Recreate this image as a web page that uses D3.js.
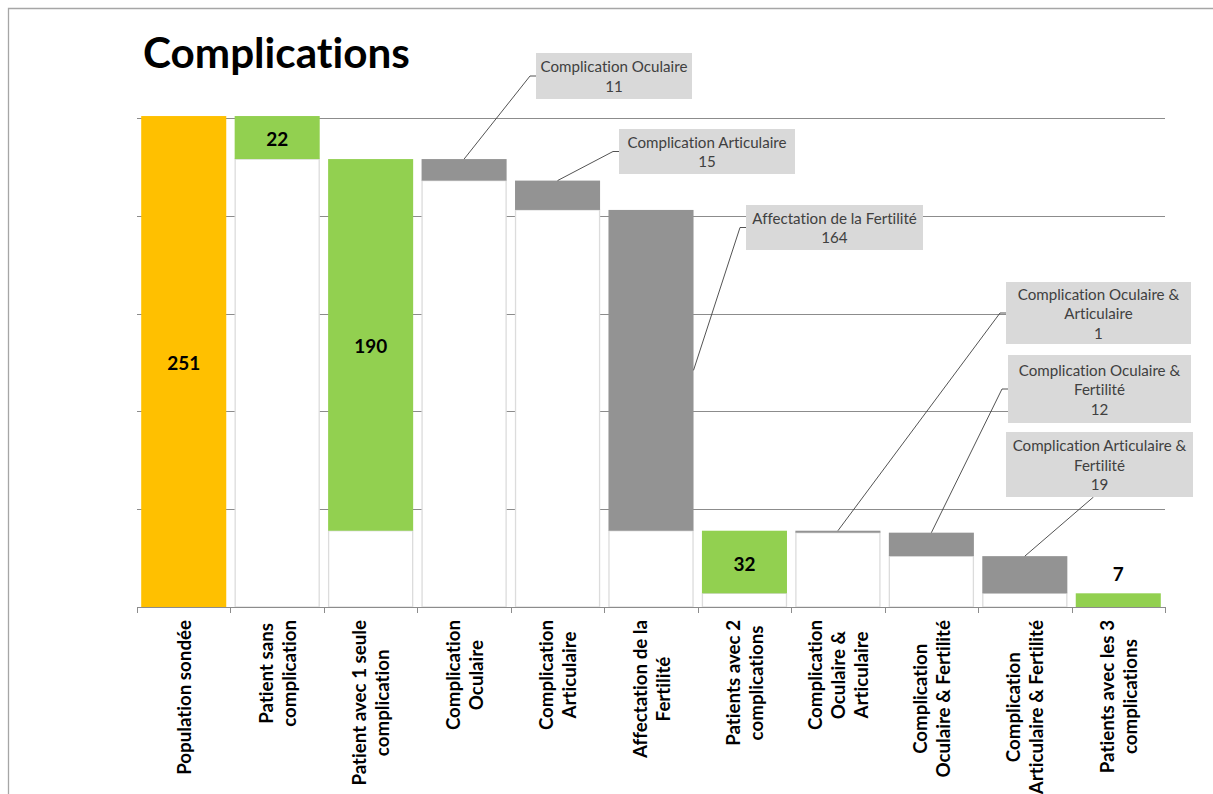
<!DOCTYPE html>
<html>
<head>
<meta charset="utf-8">
<script src="https://cdn.jsdelivr.net/npm/d3@7"></script>
<style>
	body { margin: 0; background: #fff; overflow: hidden; }
	svg { display: block; }
	text { font-family: Lato, "Noto Sans", sans-serif; font-variant-ligatures: none; font-feature-settings: "liga" 0; }
</style>
</head>
<body>
<svg id="chart" width="1213" height="794"></svg>
<script>
// chart values
var categories = [
	"Population sondée",
	"Patient sans\ncomplication",
	"Patient avec 1 seule\ncomplication",
	"Complication\nOculaire",
	"Complication\nArticulaire",
	"Affectation de la\nFertilité",
	"Patients avec 2\ncomplications",
	"Complication\nOculaire &\nArticulaire",
	"Complication\nOculaire & Fertilité",
	"Complication\nArticulaire & Fertilité",
	"Patients avec les 3\ncomplications"
];
var values = [251, 22, 190, 11, 15, 164, 32, 1, 12, 19, 7];
// invisible part under each floating bar
var bases = [0, 229, 39, 218, 203, 39, 7, 38, 26, 7, 0];
// "total" = orange, "group" = green, "detail" = grey with callout
var kinds = ["total", "group", "group", "detail", "detail", "detail", "group", "detail", "detail", "detail", "group"];
var calloutTexts = [
	null, null, null,
	"Complication Oculaire",
	"Complication Articulaire",
	"Affectation de la Fertilité",
	null,
	"Complication Oculaire &\nArticulaire",
	"Complication Oculaire &\nFertilité",
	"Complication Articulaire &\nFertilité",
	null
];
var yTicks = [0, 50, 100, 150, 200, 250];

// layout of the callout boxes (not data)
var calloutBoxes = {
	3: {x: 536, y: 53, w: 156, h: 46, anchor: "top"},
	4: {x: 619, y: 129, w: 176, h: 45, anchor: "top"},
	5: {x: 746, y: 205, w: 177, h: 45, anchor: "side"},
	7: {x: 1006, y: 282, w: 185, h: 62, anchor: "top"},
	8: {x: 1008, y: 355, w: 183, h: 68, anchor: "top"},
	9: {x: 1006, y: 432, w: 187, h: 65, anchor: "top", elbow: "bottom"}
};

var colors = { total: "#ffc000", group: "#92d050", detail: "#939393" };

(function() {
	var svg = d3.select("#chart");

	// measure helper to size fonts like the reference
	function fitSize(text, weight, target) {
		var t = svg.append("text").attr("font-size", 100).attr("font-weight", weight).text(text);
		var w = t.node().getComputedTextLength();
		t.remove();
		return 100 * target / w;
	}

	// outer frame
	svg.append("path")
		.attr("d", "M8.5,800V8.5H1220")
		.attr("fill", "none")
		.attr("stroke", "#a6a6a6")
		.attr("stroke-width", 1.3);

	var plotLeft = 137, plotRight = 1165, plotTop = 118, plotBottom = 607;

	var x = d3.scaleBand()
		.domain(d3.range(categories.length))
		.range([plotLeft, plotRight])
		.paddingInner(0.09)
		.paddingOuter(0.045);
	var y = d3.scaleLinear().domain([0, 250]).range([plotBottom, plotTop]);

	// gridlines
	svg.append("g").selectAll("line")
		.data(yTicks.slice(1))
		.enter().append("line")
		.attr("x1", plotLeft).attr("x2", plotRight)
		.attr("y1", function(d) { return Math.round(y(d)) + 0.5; })
		.attr("y2", function(d) { return Math.round(y(d)) + 0.5; })
		.attr("stroke", "#8c8c8c")
		.attr("stroke-width", 1);

	// invisible base bars (white with light border)
	svg.append("g").selectAll("rect")
		.data(bases.map(function(b, i) { return {i: i, b: b}; }).filter(function(d) { return d.b > 0; }))
		.enter().append("rect")
		.attr("x", function(d) { return x(d.i) + 0.5; })
		.attr("width", x.bandwidth() - 1)
		.attr("y", function(d) { return y(d.b); })
		.attr("height", function(d) { return y(0) - y(d.b); })
		.attr("fill", "#fff")
		.attr("stroke", "#dcdcdc")
		.attr("stroke-width", 1.3);

	// visible bars
	svg.append("g").selectAll("rect")
		.data(values.map(function(v, i) { return {i: i, v: v, b: bases[i], k: kinds[i]}; }))
		.enter().append("rect")
		.attr("x", function(d) { return x(d.i); })
		.attr("width", x.bandwidth())
		.attr("y", function(d) { return y(d.b + d.v); })
		.attr("height", function(d) { return Math.max(1.5, y(d.b) - y(d.b + d.v)); })
		.attr("fill", function(d) { return colors[d.k]; });

	// x axis line and ticks at category boundaries
	svg.append("line")
		.attr("x1", plotLeft).attr("x2", plotRight)
		.attr("y1", plotBottom + 0.5).attr("y2", plotBottom + 0.5)
		.attr("stroke", "#8c8c8c");
	var step = x.step();
	svg.append("g").selectAll("line")
		.data(d3.range(categories.length + 1))
		.enter().append("line")
		.attr("x1", function(i) { return Math.round(plotLeft + i * step) + 0.5; })
		.attr("x2", function(i) { return Math.round(plotLeft + i * step) + 0.5; })
		.attr("y1", plotBottom).attr("y2", plotBottom + 6)
		.attr("stroke", "#8c8c8c");

	// data labels on the orange / green bars
	var labelSize = fitSize("251", "bold", 33);
	values.forEach(function(v, i) {
		if (kinds[i] == "detail") return;
		var h = y(bases[i]) - y(bases[i] + v);
		var cy = h > 30 ? (y(bases[i]) + y(bases[i] + v)) / 2 + 1 : y(bases[i] + v) - 20;
		svg.append("text")
			.attr("x", x(i) + x.bandwidth() / 2)
			.attr("y", cy)
			.attr("text-anchor", "middle")
			.attr("dominant-baseline", "central")
			.attr("font-weight", "bold")
			.attr("font-size", labelSize)
			.attr("fill", "#000")
			.text(v);
	});

	// callouts for the grey bars
	var calloutSize = fitSize("Complication Oculaire", "normal", 147);
	Object.keys(calloutBoxes).forEach(function(key) {
		var i = +key;
		var box = calloutBoxes[key];
		var start;
		if (box.anchor == "side") {
			start = [x(i) + x.bandwidth(), (y(bases[i]) + y(bases[i] + values[i])) / 2];
		}
		else {
			start = [x(i) + x.bandwidth() / 2, y(bases[i] + values[i])];
		}
		var pts;
		if (box.elbow == "bottom") {
			pts = [start, [box.x + box.w / 2 - 6, box.y + box.h]];
		}
		else {
			var my = box.y + box.h / 2;
			pts = [start, [box.x - 6, my], [box.x, my]];
		}
		svg.append("path")
			.attr("d", d3.line()(pts))
			.attr("fill", "none")
			.attr("stroke", "#404040")
			.attr("stroke-width", 0.9);

		svg.append("rect")
			.attr("x", box.x).attr("y", box.y)
			.attr("width", box.w).attr("height", box.h)
			.attr("fill", "#d9d9d9");

		var lines = calloutTexts[i].split("\n").concat([String(values[i])]);
		var lineH = 19.5;
		var y0 = box.y + box.h / 2 - (lines.length - 1) * lineH / 2;
		lines.forEach(function(line, j) {
			svg.append("text")
				.attr("x", box.x + box.w / 2)
				.attr("y", y0 + j * lineH)
				.attr("text-anchor", "middle")
				.attr("dominant-baseline", "central")
				.attr("font-size", calloutSize)
				.attr("fill", "#404040")
				.text(line);
		});
	});

	// rotated category labels
	var catSize = fitSize("Population sondée", "bold", 155);
	categories.forEach(function(c, i) {
		var lines = c.split("\n");
		var g = svg.append("g")
			.attr("transform", "translate(" + (x(i) + x.bandwidth() / 2) + "," + (plotBottom + 13) + ") rotate(-90)");
		var texts = lines.map(function(line, j) {
			return g.append("text")
				.attr("y", (j - (lines.length - 1) / 2) * 23)
				.attr("text-anchor", "middle")
				.attr("dominant-baseline", "central")
				.attr("font-weight", "bold")
				.attr("font-size", catSize)
				.attr("fill", "#000")
				.text(line);
		});
		var maxW = d3.max(texts, function(t) { return t.node().getComputedTextLength(); });
		texts.forEach(function(t) { t.attr("x", -maxW / 2); });
	});

	// title
	svg.append("text")
		.attr("x", 143)
		.attr("y", 68)
		.attr("font-weight", "bold")
		.attr("font-size", fitSize("Complications", "bold", 267))
		.attr("fill", "#000")
		.text("Complications");
})();
</script>
</body>
</html>
